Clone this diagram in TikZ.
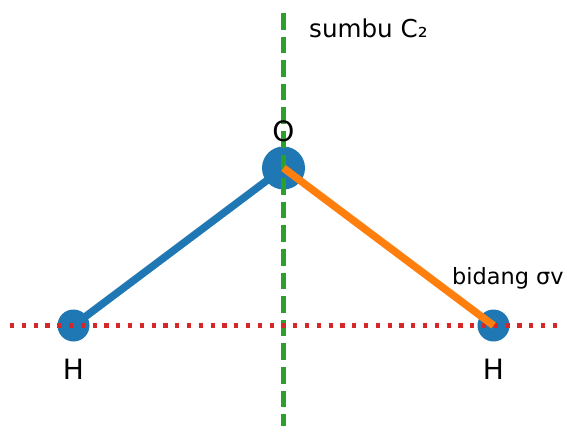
\documentclass[tikz,border=0pt]{standalone}
\usepackage{fontspec}
\setmainfont{DejaVu Sans}
\usetikzlibrary{positioning}
\definecolor{AtomBlue}{HTML}{1F77B4}
\definecolor{BondOrange}{HTML}{FF7F0E}
\definecolor{AxisGreen}{HTML}{2CA02C}
\definecolor{PlaneRed}{HTML}{D62728}

\begin{document}
\begin{tikzpicture}[
  x=1pt, y=-1pt,
  atom/.style={circle, fill=AtomBlue, inner sep=0pt},
  bond/.style={line width=7.5pt},
  axis/.style={AxisGreen, line width=4.4pt, dash pattern=on 16.5pt off 7.1pt},
  plane/.style={PlaneRed, line width=4.2pt, dash pattern=on 4.2pt off 7.6pt},
  atomlabel/.style={font=\fontsize{28}{28}\selectfont, inner sep=0pt, text height=20pt, text depth=0pt},
  note/.style={inner sep=0pt, anchor=base west}
]
\useasboundingbox (0,0) rectangle (563,426);
\node[atom, minimum size=43pt] (O) at (283.5,168) {};
\node[atom, minimum size=32pt] (HL) at (73.5,325.5) {};
\node[atom, minimum size=32pt] (HR) at (493.5,325.5) {};

\coordinate (axistop) at (283.5,13);
\coordinate (axisbot) at (283.5,426);
\coordinate (planeL) at (10,325.5);
\coordinate (planeR) at (558,325.5);

\draw[bond, AtomBlue] (O.center) -- (HL.center);
\draw[axis] (axistop) -- (axisbot);
\draw[plane] (planeL) -- (planeR);
\draw[bond, BondOrange] (O.center) -- (HR.center);

\node[atomlabel, above=26pt of O.center] (Olabel) {O};
\node[atomlabel, below=33.5pt of HL.center] (HLlabel) {H};
\node[atomlabel, below=33.5pt of HR.center] (HRlabel) {H};

\node[note, font=\fontsize{24.6}{24.6}\selectfont] (axislabel) at (309,37) {sumbu C₂};
\node[note, font=\fontsize{22.4}{22.4}\selectfont] (planelabel) at (452,284) {bidang σv};
\end{tikzpicture}
\end{document}
